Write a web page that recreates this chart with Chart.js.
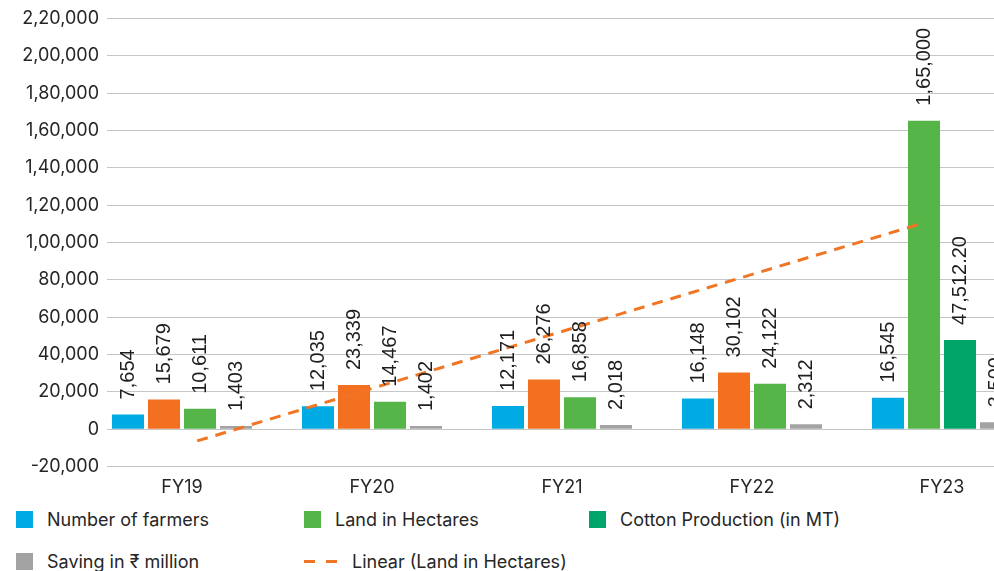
<!DOCTYPE html>
<html>
<head>
<meta charset="utf-8">
<script src="https://cdn.jsdelivr.net/npm/chart.js@4.4.1/dist/chart.umd.min.js"></script>
<style>
  html, body { margin: 0; padding: 0; background: #fff; }
  body { width: 994px; height: 571px; overflow: hidden; position: relative; font-family: Inter, "Noto Sans", sans-serif; }
  #wrap { position: absolute; left: 0; top: 0; width: 1060px; height: 505px; }
  #legend { position: absolute; left: 16px; top: 511px; display: grid;
            grid-template-columns: 288px 285px 320px; grid-auto-rows: 17px; row-gap: 25px;
            font-size: 18px; color: #262626; }
  .item { display: flex; align-items: center; white-space: nowrap; }
  .sw { width: 17px; height: 17px; margin-right: 14px; flex: none; }
  .dash { width: 34px; height: 3px; margin-right: 14px; flex: none;
          background: repeating-linear-gradient(90deg, #F07524 0 11px, transparent 11px 22px); }
</style>
</head>
<body>
<div id="wrap"><canvas id="c" width="1060" height="505"></canvas></div>
<div id="legend"></div>
<script>
// Programme figures by financial year
const categories = ['FY19', 'FY20', 'FY21', 'FY22', 'FY23'];
const farmers = [7654, 12035, 12171, 16148, 16545];
const landHectares = [15679, 23339, 26276, 30102, 165000];
const cottonMT = [10611, 14467, 16858, 24122, 47512.20];
const savingMillion = [1403, 1402, 2018, 2312, 3500];
const yTicks = { min: -20000, max: 220000, step: 20000 };

// Span (in category units) over which the fitted trend is drawn
const trendFrom = 0.08;
const trendTo = 3.91;

const BLUE = '#00ABE4', ORANGE = '#F37021', GREEN = '#55B548', DKGREEN = '#00A56A', GREY = '#A3A3A3';
const TREND = '#F07524';
const TEXT = '#262626';

// Indian digit grouping: 2,20,000 / 47,512.20
function fmtIN(v, dec) {
  const neg = v < 0;
  const parts = Math.abs(v).toFixed(dec).split('.');
  let int = parts[0];
  if (int.length > 3) {
    const last3 = int.slice(-3);
    const rest = int.slice(0, -3).replace(/\B(?=(\d{2})+(?!\d))/g, ',');
    int = rest + ',' + last3;
  }
  return (neg ? '-' : '') + int + (parts[1] ? '.' + parts[1] : '');
}

// Least-squares line through the land series (x = category index)
function linearFit(values) {
  const n = values.length;
  const xs = values.map((_, i) => i);
  const mx = xs.reduce((a, b) => a + b, 0) / n;
  const my = values.reduce((a, b) => a + b, 0) / n;
  let num = 0, den = 0;
  xs.forEach((x, i) => { num += (x - mx) * (values[i] - my); den += (x - mx) * (x - mx); });
  const slope = num / den;
  return x => my + slope * (x - mx);
}
const fit = linearFit(landHectares);
const trendPoints = [trendFrom, trendTo].map(x => ({ x: x, y: fit(x) }));

// Bars sit on a numeric x axis (one unit per year) so the trend can share it
const toPoints = arr => arr.map((v, i) => ({ x: i, y: v }));
const lastIdx = categories.length - 1;
const datasets = [
  { label: 'Number of farmers', values: farmers, backgroundColor: BLUE, legendColor: BLUE },
  { label: 'Land in Hectares', values: landHectares,
    backgroundColor: landHectares.map((_, i) => i === lastIdx ? GREEN : ORANGE), legendColor: GREEN },
  { label: 'Cotton Production (in MT)', values: cottonMT,
    backgroundColor: cottonMT.map((_, i) => i === lastIdx ? DKGREEN : GREEN), legendColor: DKGREEN },
  { label: 'Saving in \u20B9 million', values: savingMillion, backgroundColor: GREY, legendColor: GREY }
].map(d => Object.assign(d, {
  type: 'bar', data: toPoints(d.values), order: 2, grouped: true,
  categoryPercentage: 0.758, barPercentage: 0.89, borderWidth: 0
}));

datasets.push({
  type: 'line', label: 'Linear (Land in Hectares)', data: trendPoints,
  order: 1, isTrend: true,
  borderColor: TREND, borderWidth: 3, borderDash: [11, 8], pointRadius: 0, fill: false, tension: 0
});

// Horizontal gridlines inset from the plot's left edge, with the value labels beside them
const gridPlugin = {
  id: 'insetGrid',
  beforeDatasetsDraw(chart) {
    const { ctx, chartArea, scales } = chart;
    const y = scales.y;
    ctx.save();
    ctx.strokeStyle = '#C6C6C6';
    ctx.lineWidth = 1.2;
    ctx.fillStyle = TEXT;
    ctx.font = '18px Inter, sans-serif';
    ctx.textAlign = 'right';
    ctx.textBaseline = 'middle';
    y.ticks.forEach(t => {
      const py = Math.round(y.getPixelForValue(t.value)) + 0.5;
      ctx.beginPath();
      ctx.moveTo(chartArea.left + 20, py);
      ctx.lineTo(chart.width, py);
      ctx.stroke();
      ctx.fillText(fmtIN(t.value, 0), chartArea.left + 12, py);
    });
    ctx.restore();
  }
};

// Vertical value labels above each bar
const barLabelPlugin = {
  id: 'barLabels',
  afterDatasetsDraw(chart) {
    const { ctx } = chart;
    ctx.save();
    ctx.font = '20px "Liberation Sans", Arial, sans-serif';
    ctx.fillStyle = '#1E1E1E';
    ctx.textAlign = 'left';
    ctx.textBaseline = 'middle';
    chart.data.datasets.forEach((ds, di) => {
      if (ds.type !== 'bar') return;
      const meta = chart.getDatasetMeta(di);
      meta.data.forEach((el, i) => {
        const v = ds.values[i];
        const txt = fmtIN(v, Number.isInteger(v) ? 0 : 2);
        ctx.save();
        ctx.translate(el.x, el.y - 15);
        ctx.rotate(-Math.PI / 2);
        ctx.fillText(txt, 0, 0);
        ctx.restore();
      });
    });
    ctx.restore();
  }
};

const chart = new Chart(document.getElementById('c'), {
  type: 'bar',
  data: { datasets: datasets },
  options: {
    responsive: false,
    animation: false,
    devicePixelRatio: 1,
    layout: { padding: { top: 18, right: 23, left: 0, bottom: 0 } },
    plugins: { legend: { display: false }, tooltip: { enabled: false } },
    scales: {
      x: {
        type: 'linear', offset: false,
        min: -0.5, max: categories.length - 0.5,
        afterBuildTicks(s) { s.ticks = categories.map((_, i) => ({ value: i })); },
        grid: { display: false, drawTicks: false }, border: { display: false },
        ticks: {
          color: TEXT, font: { family: 'Inter', size: 18 }, padding: 11,
          maxRotation: 0, autoSkip: false,
          callback: v => categories[v]
        },
        afterFit(s) { s.height = 39; }
      },
      y: {
        min: yTicks.min, max: yTicks.max,
        grid: { display: false, drawTicks: false }, border: { display: false },
        ticks: { stepSize: yTicks.step, display: false },
        afterFit(s) { s.width = 87; }
      }
    }
  },
  plugins: [gridPlugin, barLabelPlugin]
});

// Legend laid out in rows of three columns
const legend = document.getElementById('legend');
chart.data.datasets.forEach(ds => {
  const item = document.createElement('div');
  item.className = 'item';
  const mark = document.createElement('span');
  if (ds.isTrend) {
    mark.className = 'dash';
  } else {
    mark.className = 'sw';
    mark.style.background = ds.legendColor;
  }
  const txt = document.createElement('span');
  txt.textContent = ds.label;
  item.appendChild(mark);
  item.appendChild(txt);
  legend.appendChild(item);
});
</script>
</body>
</html>
